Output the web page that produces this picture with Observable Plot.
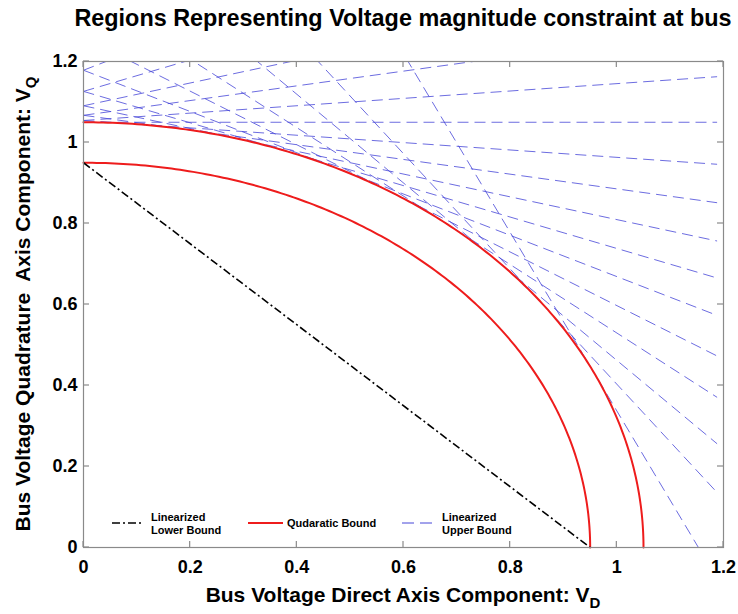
<!DOCTYPE html>
<html>
<head>
<meta charset="utf-8">
<script src="https://cdn.jsdelivr.net/npm/d3@7"></script>
<script src="https://cdn.jsdelivr.net/npm/@observablehq/plot@0.6"></script>
<style>
  html, body { margin: 0; padding: 0; background: #fff; overflow: hidden; }
  #title { position: relative; height: 40px; }
  #title span {
    position: absolute; left: 403px; top: 5px; transform: translateX(-50%);
    white-space: nowrap; font: bold 23.4px "Liberation Sans", Arial, sans-serif; color: #000;
  }
</style>
</head>
<body>
<div id="title"><span>Regions Representing Voltage magnitude constraint at bus</span></div>
<div id="chart"></div>
<script>
// Axis ticks (per unit)
const xTicks = [0, 0.2, 0.4, 0.6, 0.8, 1, 1.2];
const yTicks = [0, 0.2, 0.4, 0.6, 0.8, 1, 1.2];

// Quadratic bound: |V| between Vmin and Vmax
const quadraticRadii = [0.95, 1.05];

// Linearized lower bound: VD + VQ = Vmin
const lowerBoundIntercept = 0.95;

// Linearized upper bound: tangents to |V| = Vmax at these angles (degrees)
const upperRadius = 1.05;
const upperTangentAngles = [24.4, 35.1, 42.4, 49.8, 56.5, 63.0, 68.8, 74.3, 79.7, 84.8, 90,
                            95.2, 100.3, 105.7, 111.2, 117.0];
const upperLineEndVD = 1.188;

// Legend entries
const legendItems = [
  {key: "lower", lines: ["Linearized", "Lower Bound"]},
  {key: "quad", lines: ["Qudaratic Bound"]},
  {key: "upper", lines: ["Linearized", "Upper Bound"]}
];

const styles = {
  lower: {stroke: "#000", strokeWidth: 1.6, dash: "8,3,2,3"},
  quad: {stroke: "#ee1c1c", strokeWidth: 2, dash: null},
  upper: {stroke: "#4646d8", strokeWidth: 0.8, dash: "11,6"}
};

// Quarter-circle arcs for each radius
const arcs = quadraticRadii.flatMap(r =>
  d3.range(0, 90.25, 0.5).map(a => ({r, x: r * Math.sin(a * Math.PI / 180), y: r * Math.cos(a * Math.PI / 180)}))
);

// Tangent lines x cos(t) + y sin(t) = R, from VD = 0 to the end value
const upperLines = upperTangentAngles.map(deg => {
  const t = deg * Math.PI / 180;
  const c = Math.cos(t), s = Math.sin(t);
  return {x1: 0, y1: upperRadius / s, x2: upperLineEndVD, y2: (upperRadius - upperLineEndVD * c) / s};
});

const lowerLine = [{x1: 0, y1: lowerBoundIntercept, x2: lowerBoundIntercept, y2: 0}];

const W = 738, H = 574;
const chart = Plot.plot({
  width: W, height: H,
  marginTop: 21, marginBottom: 67, marginLeft: 83, marginRight: 15,
  x: {domain: [0, 1.2]},
  y: {domain: [0, 1.2]},
  style: {fontFamily: "'Liberation Sans', Arial, sans-serif", fontSize: "18px", fontWeight: "bold", color: "#000", background: "#fff", overflow: "visible"},
  marks: [
    Plot.link(upperLines, {x1: "x1", y1: "y1", x2: "x2", y2: "y2", stroke: styles.upper.stroke,
      strokeWidth: styles.upper.strokeWidth, strokeDasharray: styles.upper.dash, clip: true}),
    Plot.line(arcs, {x: "x", y: "y", z: "r", stroke: styles.quad.stroke, strokeWidth: styles.quad.strokeWidth}),
    Plot.link(lowerLine, {x1: "x1", y1: "y1", x2: "x2", y2: "y2", stroke: styles.lower.stroke,
      strokeWidth: styles.lower.strokeWidth, strokeDasharray: styles.lower.dash}),
    Plot.frame({stroke: "#8a8a8a", strokeWidth: 1.2}),
    Plot.axisX({ticks: xTicks, tickSize: 0, tickPadding: 13, label: null, tickFormat: d => `${d}`}),
    Plot.axisY({ticks: yTicks, tickSize: 0, tickPadding: 6, label: null, tickFormat: d => `${d}`})
  ]
});
document.getElementById("chart").appendChild(chart);

// Inward ticks on all four sides, plus axis titles and legend
const sx = chart.scale("x"), sy = chart.scale("y");
const svg = d3.select(chart);
const pxLeft = sx.apply(0), pxRight = sx.apply(1.2), pxTop = sy.apply(1.2), pxBottom = sy.apply(0);
const tickLen = 6;
const tg = svg.append("g").attr("stroke", "#8a8a8a").attr("stroke-width", 1.2);
xTicks.forEach(v => {
  const px = sx.apply(v);
  tg.append("line").attr("x1", px).attr("x2", px).attr("y1", pxBottom).attr("y2", pxBottom - tickLen);
  tg.append("line").attr("x1", px).attr("x2", px).attr("y1", pxTop).attr("y2", pxTop + tickLen);
});
yTicks.forEach(v => {
  const py = sy.apply(v);
  tg.append("line").attr("y1", py).attr("y2", py).attr("x1", pxLeft).attr("x2", pxLeft + tickLen);
  tg.append("line").attr("y1", py).attr("y2", py).attr("x1", pxRight).attr("x2", pxRight - tickLen);
});

const font = "'Liberation Sans', Arial, sans-serif";
const xl = svg.append("text").attr("x", (pxLeft + pxRight) / 2).attr("y", 562)
  .attr("text-anchor", "middle").attr("font-family", font).attr("font-size", 21).attr("font-weight", "bold").attr("fill", "#000");
xl.append("tspan").text("Bus Voltage Direct Axis Component: V");
xl.append("tspan").attr("dy", 6).attr("font-size", 15).text("D");

const yl = svg.append("text").attr("transform", `translate(30,${(pxTop + pxBottom) / 2}) rotate(-90)`)
  .attr("text-anchor", "middle").attr("font-family", font).attr("font-size", 21).attr("font-weight", "bold")
  .attr("fill", "#000").style("white-space", "pre");
yl.append("tspan").text("Bus Voltage Quadrature  Axis Component: V");
yl.append("tspan").attr("dy", 6).attr("font-size", 15).text("Q");

// Legend (inside the axes, bottom-left)
const legendPos = [{x0: 112, x1: 142, tx: 151}, {x0: 248, x1: 283, tx: 287}, {x0: 402, x1: 433, tx: 442}];
const ly = 483;
const lg = svg.append("g").attr("font-family", font).attr("font-size", 11).attr("font-weight", "bold")
  .attr("text-anchor", "start");
legendItems.forEach((item, i) => {
  const p = legendPos[i], s = styles[item.key];
  lg.append("line").attr("x1", p.x0).attr("x2", p.x1).attr("y1", ly).attr("y2", ly)
    .attr("stroke", s.stroke).attr("stroke-width", item.key === "upper" ? 1 : s.strokeWidth)
    .attr("stroke-dasharray", item.key === "upper" ? "12,6" : s.dash);
  const n = item.lines.length;
  item.lines.forEach((t, j) => {
    lg.append("text").attr("x", p.tx).attr("y", ly + 4 + (j - (n - 1) / 2) * 13).attr("fill", "#000").text(t);
  });
});
</script>
</body>
</html>
